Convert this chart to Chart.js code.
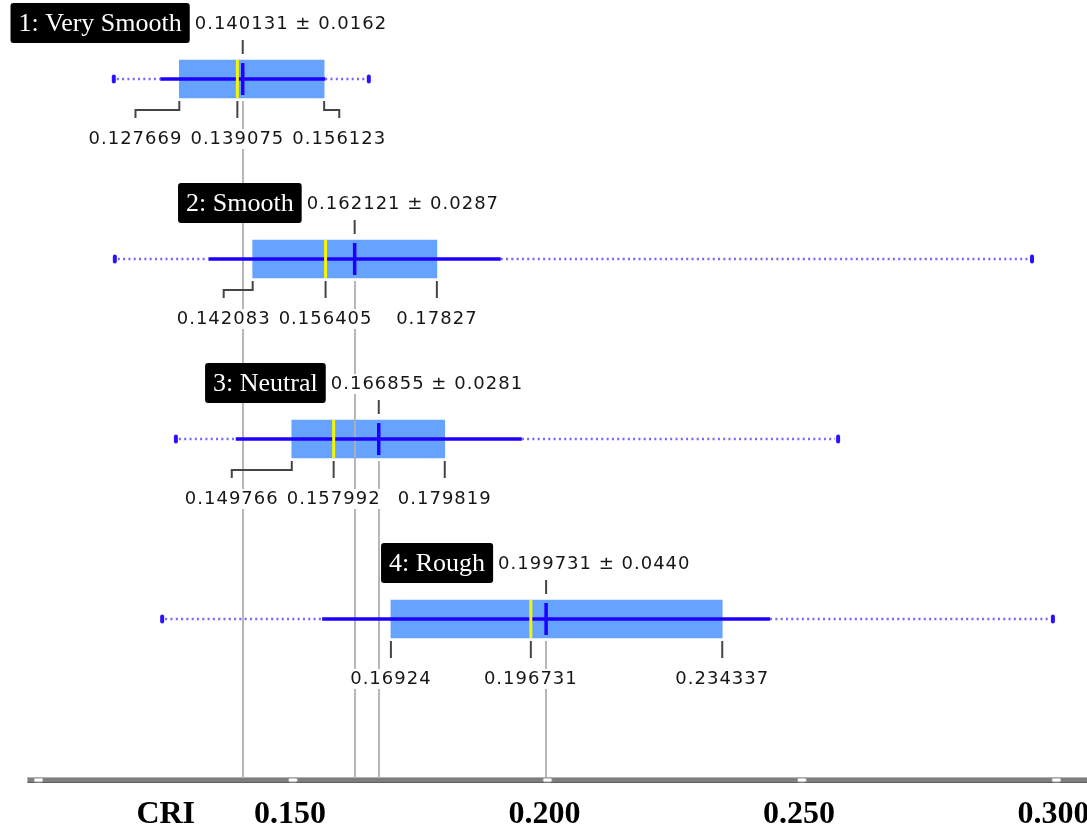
<!DOCTYPE html>
<html>
<head>
<meta charset="utf-8">
<script src="https://cdn.jsdelivr.net/npm/chart.js@4/dist/chart.umd.min.js"></script>
<style>
  html, body { margin: 0; padding: 0; background: #ffffff; overflow: hidden; }
  canvas { display: block; }
</style>
</head>
<body>
<canvas id="c" width="1087" height="830"></canvas>
<script>
// CRI distribution per surface class
const categories = ['1: Very Smooth', '2: Smooth', '3: Neutral', '4: Rough'];
const means   = [0.140131, 0.162121, 0.166855, 0.199731];
const sds     = [0.0162, 0.0287, 0.0281, 0.0440];
const q1s     = [0.127669, 0.142083, 0.149766, 0.16924];
const medians = [0.139075, 0.156405, 0.157992, 0.196731];
const q3s     = [0.156123, 0.17827, 0.179819, 0.234337];
const mins    = [0.1148, 0.1150, 0.1270, 0.1243];
const maxs    = [0.1649, 0.2952, 0.2571, 0.2993];

const axisTicks = [0.10, 0.15, 0.20, 0.25, 0.30];
const axisTickLabels = ['', '0.150', '0.200', '0.250', '0.300'];
const axisTitle = 'CRI';

const BOX_HALF = 19;
const NUM_FONT = '18px "DejaVu Sans"';
const NUM_COLOR = '#161616';
const TICK_COLOR = '#454545';

const fmtQ = v => String(parseFloat(v.toFixed(6)));

function withSpacing(ctx, fn) {
  ctx.save();
  ctx.font = NUM_FONT;
  if ('letterSpacing' in ctx) ctx.letterSpacing = '1px';
  fn();
  ctx.restore();
}

// text with a white backing so reference lines pass behind it
function numLabel(ctx, txt, left, baseline) {
  const w = ctx.measureText(txt).width;
  ctx.fillStyle = '#ffffff';
  ctx.fillRect(left - 1, baseline - 15, w + 2, 20);
  ctx.fillStyle = NUM_COLOR;
  ctx.textAlign = 'left';
  ctx.textBaseline = 'alphabetic';
  ctx.fillText(txt, left, baseline);
  return w;
}

function vline(ctx, x, y0, y1, color, width) {
  ctx.beginPath();
  ctx.strokeStyle = color;
  ctx.lineWidth = width;
  ctx.moveTo(x, y0);
  ctx.lineTo(x, y1);
  ctx.stroke();
}

const boxDecor = {
  id: 'boxDecor',
  afterDatasetsDraw(chart) {
    const ctx = chart.ctx;
    const xs = chart.scales.x, ys = chart.scales.y;
    const axisY = chart.chartArea.bottom;
    const px = v => xs.getPixelForValue(v);

    // reference lines from each mean down to the axis
    ctx.save();
    categories.forEach((c, i) => {
      const cy = ys.getPixelForValue(i + 1);
      vline(ctx, Math.round(px(means[i])), cy + BOX_HALF + 3, axisY - 2, 'rgba(175,175,175,0.9)', 2);
    });
    ctx.restore();

    categories.forEach((c, i) => {
      const cy = ys.getPixelForValue(i + 1);
      const top = cy - BOX_HALF, bot = cy + BOX_HALF;
      const xMean = px(means[i]);
      const xLo = px(means[i] - sds[i]), xHi = px(means[i] + sds[i]);
      const xMin = px(mins[i]), xMax = px(maxs[i]);

      ctx.save();
      // full range, dotted
      ctx.setLineDash([2, 3.3]);
      ctx.strokeStyle = '#7466ff';
      ctx.lineWidth = 2.5;
      ctx.beginPath();
      ctx.moveTo(xMin + 3, cy); ctx.lineTo(xLo, cy);
      ctx.moveTo(xHi, cy); ctx.lineTo(xMax - 3, cy);
      ctx.stroke();
      ctx.setLineDash([]);
      // mean ± sd, solid
      ctx.strokeStyle = '#1e00ff';
      ctx.lineWidth = 3.5;
      ctx.beginPath();
      ctx.moveTo(xLo, cy); ctx.lineTo(xHi, cy);
      ctx.stroke();
      // min / max caps
      ctx.fillStyle = '#2a12ff';
      [xMin, xMax].forEach(x => {
        ctx.beginPath();
        ctx.roundRect(x - 2, cy - 4.5, 4, 9, 2);
        ctx.fill();
      });
      // median
      vline(ctx, px(medians[i]), top, bot, '#f6f600', 3);
      // mean
      vline(ctx, xMean, cy - 16, cy + 16, '#1e00ff', 3.5);
      ctx.restore();

      // value labels under the box
      withSpacing(ctx, () => {
        const gap = 8;
        const xMed = px(medians[i]), x1 = px(q1s[i]), x3 = px(q3s[i]);
        const tMed = fmtQ(medians[i]), t1 = fmtQ(q1s[i]), t3 = fmtQ(q3s[i]);
        const wMed = ctx.measureText(tMed).width;
        const w1 = ctx.measureText(t1).width;
        const w3 = ctx.measureText(t3).width;
        let c1 = x1, c3 = x3;
        if (c1 + w1 / 2 > xMed - wMed / 2 - gap) c1 = xMed - wMed / 2 - gap - w1 / 2;
        if (c3 - w3 / 2 < xMed + wMed / 2 + gap) c3 = xMed + wMed / 2 + gap + w3 / 2;

        const t0 = bot + 3, tElbow = bot + 12, t1y = bot + 20;
        ctx.strokeStyle = TICK_COLOR;
        ctx.lineWidth = 2;
        [[x1, c1], [xMed, xMed], [x3, c3]].forEach(([a, cpos]) => {
          ctx.beginPath();
          if (Math.abs(a - cpos) < 1.5) {
            ctx.moveTo(a, t0); ctx.lineTo(a, t1y);
          } else {
            ctx.moveTo(a, t0); ctx.lineTo(a, tElbow); ctx.lineTo(cpos, tElbow); ctx.lineTo(cpos, t1y);
          }
          ctx.stroke();
        });
        const base = bot + 46;
        numLabel(ctx, t1, c1 - w1 / 2, base);
        numLabel(ctx, tMed, xMed - wMed / 2, base);
        numLabel(ctx, t3, c3 - w3 / 2, base);

        // mean tick and mean ± sd label above the box
        vline(ctx, xMean, top - 20, top - 6, TICK_COLOR, 2);
        const mTxt = means[i].toFixed(6) + ' \u00b1 ' + sds[i].toFixed(4);
        const labLeft = xMean - 48;
        numLabel(ctx, mTxt, labLeft, top - 31);

        // category tag
        ctx.save();
        if ('letterSpacing' in ctx) ctx.letterSpacing = '0px';
        ctx.font = '26px "Liberation Serif"';
        const tw = ctx.measureText(c).width;
        const right = labLeft - 5;
        const w = tw + 16;
        ctx.fillStyle = '#000000';
        ctx.beginPath();
        ctx.roundRect(right - w, top - 57, w, 40, 3);
        ctx.fill();
        ctx.fillStyle = '#ffffff';
        ctx.textAlign = 'left';
        ctx.textBaseline = 'alphabetic';
        ctx.fillText(c, right - w + 8, top - 29);
        ctx.restore();
      });
    });

    // value axis
    ctx.save();
    const ay = axisY - 3;
    const xStart = px(axisTicks[0]) - 11;
    ctx.fillStyle = '#7e7e7e';
    ctx.fillRect(xStart, ay, chart.width - xStart, 6);
    ctx.fillStyle = '#b4b4b4';
    ctx.fillRect(xStart, ay, chart.width - xStart, 1);
    ctx.fillStyle = '#5e5e5e';
    ctx.fillRect(xStart, ay + 5, chart.width - xStart, 1);
    axisTicks.forEach(t => {
      const x = px(t);
      ctx.fillStyle = '#ffffff';
      ctx.strokeStyle = '#9a9a9a';
      ctx.lineWidth = 1;
      ctx.beginPath();
      ctx.roundRect(x - 4.5, ay + 1, 9, 4, 1.5);
      ctx.fill();
      ctx.stroke();
    });
    ctx.fillStyle = '#000000';
    ctx.font = 'bold 32px "Liberation Serif"';
    ctx.textAlign = 'center';
    ctx.textBaseline = 'alphabetic';
    axisTicks.forEach((t, k) => {
      if (axisTickLabels[k]) ctx.fillText(axisTickLabels[k], px(t) - 3, 823);
    });
    ctx.fillText(axisTitle, (px(axisTicks[0]) + px(axisTicks[1])) / 2, 823);
    ctx.restore();
  }
};

new Chart(document.getElementById('c'), {
  type: 'bar',
  data: {
    datasets: [{
      data: categories.map((c, i) => ({ y: i + 1, x: [q1s[i], q3s[i]] })),
      backgroundColor: '#66a3ff',
      borderWidth: 0,
      borderSkipped: false,
      barThickness: BOX_HALF * 2
    }]
  },
  options: {
    indexAxis: 'y',
    responsive: false,
    animation: false,
    layout: { padding: { left: 0, right: 0, top: 0, bottom: 50 } },
    plugins: { legend: { display: false }, tooltip: { enabled: false } },
    scales: {
      x: { type: 'linear', min: 0.09244, max: 0.30600, offset: false, display: false },
      y: { type: 'linear', min: 0.5611, max: 4.8944, reverse: true, offset: false, display: false }
    }
  },
  plugins: [boxDecor]
});
</script>
</body>
</html>
